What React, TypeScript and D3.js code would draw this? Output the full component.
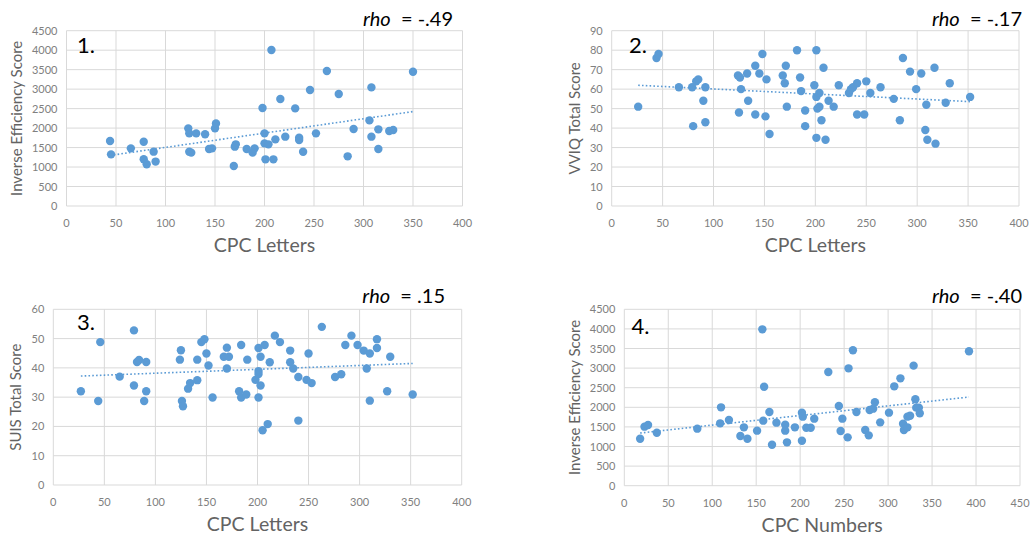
import React from "react";
import * as d3 from "d3";

// panel 1: CPC Letters vs Inverse Efficiency Score
const p1X = [44, 45, 65, 78, 78, 81, 88, 90, 123, 124, 124, 126, 131, 140, 144, 147, 150, 151, 169, 170, 171, 182, 188, 190, 198, 200, 200, 201, 204, 207, 209, 211, 216, 221, 231, 235, 235, 239, 246, 252, 263, 275, 284, 290, 306, 308, 308, 315, 315, 326, 330, 350];
const p1Y = [1670, 1326, 1480, 1650, 1200, 1070, 1395, 1140, 1993, 1865, 1395, 1370, 1865, 1840, 1463, 1480, 1993, 2120, 1027, 1523, 1583, 1463, 1370, 1480, 2515, 1865, 1608, 1198, 1583, 4003, 1198, 1711, 2746, 1780, 2506, 1754, 1694, 1394, 2977, 1865, 3465, 2874, 1275, 1976, 2198, 3045, 1780, 1968, 1463, 1925, 1950, 3447];

// panel 2: CPC Letters vs VVIQ Total Score
const p2X = [26, 44, 46, 66, 79, 80, 83, 85, 90, 92, 92, 124, 125, 126, 127, 133, 134, 141, 141, 145, 148, 151, 152, 155, 168, 170, 171, 172, 182, 185, 186, 190, 190, 199, 201, 201, 201, 202, 204, 204, 206, 208, 210, 213, 218, 223, 233, 235, 237, 241, 241, 248, 250, 254, 264, 277, 283, 286, 293, 299, 304, 308, 309, 310, 317, 318, 328, 332, 352];
const p2Y = [51, 76, 78, 61, 61, 41, 64, 65, 54, 61, 43, 67, 48, 66, 60, 68, 54, 72, 47, 68, 78, 46, 65, 37, 67, 63, 72, 51, 80, 66, 59, 49, 41, 62, 80, 56, 35, 50, 58, 51, 44, 71, 34, 54, 51, 62, 58, 60, 61, 63, 47, 47, 64, 58, 61, 55, 44, 76, 69, 60, 68, 39, 52, 34, 71, 32, 53, 63, 56];

// panel 3: CPC Letters vs SUIS Total Score
const p3X = [27, 44, 46, 65, 79, 79, 82, 84, 89, 91, 91, 124, 125, 126, 127, 132, 134, 141, 141, 145, 148, 150, 152, 156, 167, 170, 170, 172, 182, 184, 184, 189, 190, 198, 201, 201, 201, 201, 203, 203, 205, 207, 210, 212, 217, 222, 232, 232, 235, 240, 240, 248, 250, 253, 263, 276, 282, 286, 292, 298, 304, 307, 310, 310, 317, 317, 327, 330, 352];
const p3Y = [32, 28.7, 48.8, 37, 52.8, 34, 42, 42.7, 28.7, 42, 32, 42.8, 46, 28.7, 26.9, 32.9, 34.8, 42.8, 35.8, 48.8, 49.8, 44.9, 40.8, 29.9, 43.8, 46.9, 39.8, 43.8, 32, 47.8, 29.9, 30.9, 42.8, 35.9, 38.9, 37.9, 29.9, 46.8, 34, 43.8, 18.7, 47.8, 20.8, 41.9, 51, 48.8, 45.9, 41.9, 39.8, 36.9, 22, 35.9, 44.9, 34.8, 54, 36.9, 37.8, 47.8, 51, 47.8, 45.9, 39.8, 44.9, 28.8, 46.8, 49.8, 32, 43.8, 30.9];

// panel 4: CPC Numbers vs Inverse Efficiency Score
const p4X = [18, 23, 27, 37, 83, 109, 110, 119, 132, 136, 140, 151, 157, 158, 159, 165, 168, 173, 183, 183, 185, 194, 202, 202, 203, 207, 212, 216, 232, 244, 246, 248, 254, 255, 260, 264, 274, 278, 279, 283, 285, 291, 301, 307, 314, 317, 318, 322, 322, 325, 329, 331, 332, 335, 336, 392];
const p4Y = [1199, 1506, 1548, 1352, 1455, 1591, 1999, 1676, 1267, 1489, 1199, 1404, 3989, 1659, 2526, 1880, 1046, 1608, 1557, 1404, 1106, 1489, 1863, 1148, 1761, 1480, 1480, 1710, 2901, 2033, 1395, 1710, 1233, 2994, 3454, 1880, 1421, 1284, 1931, 1965, 2127, 1616, 1863, 2535, 2739, 1582, 1421, 1489, 1761, 1786, 3063, 2204, 1991, 1991, 1846, 3430];

const letterTicks = [0, 50, 100, 150, 200, 250, 300, 350, 400];
const numberTicks = [0, 50, 100, 150, 200, 250, 300, 350, 400, 450];
const ieTicks = [0, 500, 1000, 1500, 2000, 2500, 3000, 3500, 4000, 4500];
const vviqTicks = [0, 10, 20, 30, 40, 50, 60, 70, 80, 90];
const suisTicks = [0, 10, 20, 30, 40, 50, 60];

const FONT = "Lato, 'Open Sans', sans-serif";
const BLUE = "#5B9BD5";
const GRID = "#d9d9d9";
const TICK = "#808080";
const TITLE = "#636363";

type PanelProps = {
  xs: number[];
  ys: number[];
  xTicks: number[];
  yTicks: number[];
  box: [number, number, number, number]; // left, top, right, bottom
  xTitle: string;
  yTitle: string;
  yTitleX: number;
  num: string;
  numPos: [number, number];
  rho: string;
  rhoPos: [number, number];
};

function Panel(p: PanelProps) {
  const [l, t, r, b] = p.box;
  const x = d3.scaleLinear().domain([p.xTicks[0], p.xTicks[p.xTicks.length - 1]]).range([l, r]);
  const y = d3.scaleLinear().domain([p.yTicks[0], p.yTicks[p.yTicks.length - 1]]).range([b, t]);

  // least squares linear trend, as Excel draws it
  const mx = d3.mean(p.xs)!;
  const my = d3.mean(p.ys)!;
  let sxy = 0, sxx = 0;
  p.xs.forEach((v, i) => { sxy += (v - mx) * (p.ys[i] - my); sxx += (v - mx) * (v - mx); });
  const slope = sxy / sxx;
  const [x0, x1] = d3.extent(p.xs) as [number, number];
  const trend = d3.line<number>().x(v => x(v)).y(v => y(my + slope * (v - mx)))([x0, x1]);

  return (
    <g>
      {p.yTicks.map(v => (
        <line key={"gy" + v} x1={l} x2={r} y1={y(v)} y2={y(v)} stroke={GRID} strokeWidth={1} />
      ))}
      {p.xTicks.map(v => (
        <line key={"gx" + v} x1={x(v)} x2={x(v)} y1={t} y2={b} stroke={GRID} strokeWidth={1} />
      ))}
      {p.yTicks.map(v => (
        <text key={"ty" + v} x={l - 9} y={y(v) + 4} textAnchor="end" fontSize={11} fill={TICK} fontFamily={FONT}>{v}</text>
      ))}
      {p.xTicks.map(v => (
        <text key={"tx" + v} x={x(v)} y={b + 21} textAnchor="middle" fontSize={11} fill={TICK} fontFamily={FONT}>{v}</text>
      ))}
      {p.xs.map((v, i) => (
        <circle key={"c" + i} cx={x(v)} cy={y(p.ys[i])} r={4.2} fill={BLUE} />
      ))}
      <path d={trend!} fill="none" stroke={BLUE} strokeWidth={1.6} strokeDasharray="1.6 2.2" />
      <text x={(l + r) / 2} y={b + 46} textAnchor="middle" fontSize={19.5} fill={TITLE} fontFamily={FONT}>{p.xTitle}</text>
      <text transform={`translate(${p.yTitleX},${(t + b) / 2}) rotate(-90)`} textAnchor="middle" dy={5} fontSize={15} fill={TITLE} fontFamily={FONT}>{p.yTitle}</text>
      <text x={p.numPos[0]} y={p.numPos[1]} fontSize={22} fill="#000" fontFamily={FONT}>{p.num}</text>
      <text x={p.rhoPos[0]} y={p.rhoPos[1]} textAnchor="end" fontSize={20} fill="#000" fontFamily={FONT}>
        <tspan fontStyle="italic">rho</tspan>
        <tspan xmlSpace="preserve">{"  = " + p.rho}</tspan>
      </text>
    </g>
  );
}

export default function App() {
  return (
    <svg width={1031} height={538} style={{ position: "absolute", left: 0, top: 0, background: "#fff" }}>
      <rect width={1031} height={538} fill="#fff" />
      <Panel xs={p1X} ys={p1Y} xTicks={letterTicks} yTicks={ieTicks} box={[66.5, 30.7, 462.5, 206]}
        xTitle="CPC Letters" yTitle="Inverse Efficiency Score" yTitleX={17}
        num="1." numPos={[77, 53]} rho="-.49" rhoPos={[453, 26]} />
      <Panel xs={p2X} ys={p2Y} xTicks={letterTicks} yTicks={vviqTicks} box={[611.7, 30.7, 1019, 206]}
        xTitle="CPC Letters" yTitle="VVIQ Total Score" yTitleX={575}
        num="2." numPos={[629, 53]} rho="-.17" rhoPos={[1022, 26]} />
      <Panel xs={p3X} ys={p3Y} xTicks={letterTicks} yTicks={suisTicks} box={[53.3, 309.3, 461.7, 485]}
        xTitle="CPC Letters" yTitle="SUIS Total Score" yTitleX={16}
        num="3." numPos={[77, 330]} rho=".15" rhoPos={[445, 303]} />
      <Panel xs={p4X} ys={p4Y} xTicks={numberTicks} yTicks={ieTicks} box={[624.3, 309.3, 1020, 485.7]}
        xTitle="CPC Numbers" yTitle="Inverse Efficiency Score" yTitleX={575}
        num="4." numPos={[631.5, 334]} rho="-.40" rhoPos={[1022, 303]} />
    </svg>
  );
}
